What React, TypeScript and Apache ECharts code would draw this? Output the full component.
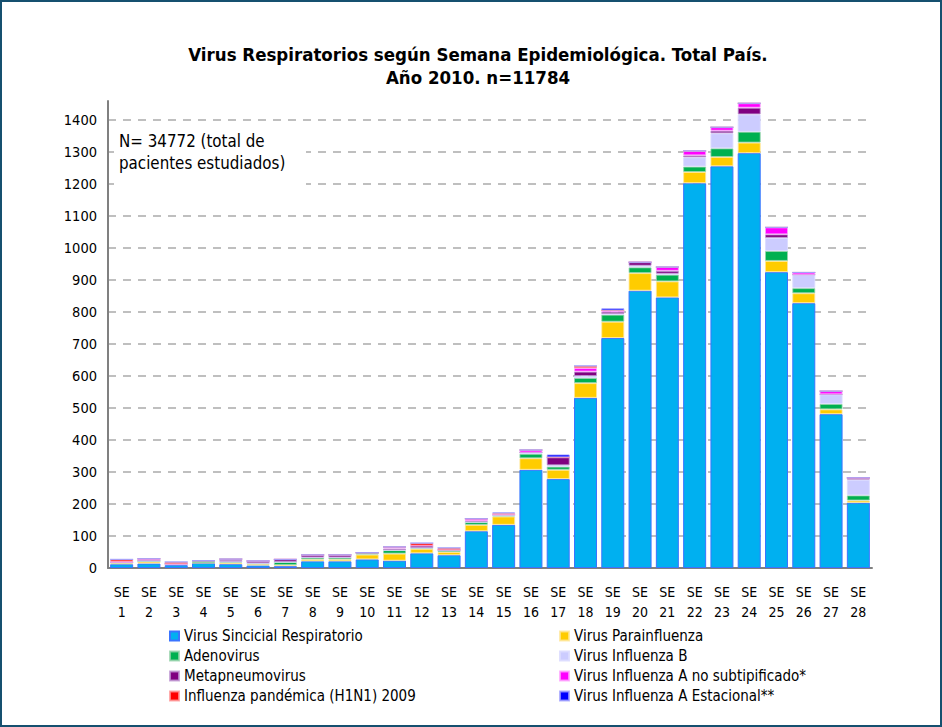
import React, { useEffect, useRef } from "react";
import * as echarts from "echarts";

const weeks = ["1","2","3","4","5","6","7","8","9","10","11","12","13","14","15","16","17","18","19","20","21","22","23","24","25","26","27","28"];
const categories = weeks.map((w) => "SE\n" + w);

const vsr = [12, 14, 9, 16, 12, 8, 6, 21, 21, 27, 23, 46, 40, 115, 135, 307, 278, 532, 719, 867, 846, 1203, 1256, 1297, 925, 828, 481, 204];
const parainfluenza = [3, 6, 4, 0, 5, 4, 3, 6, 6, 15, 22, 14, 10, 20, 26, 36, 29, 46, 51, 55, 50, 35, 29, 33, 35, 31, 15, 7];
const adenovirus = [3, 1, 0, 7, 3, 3, 10, 6, 6, 6, 11, 3, 7, 9, 4, 14, 10, 16, 22, 18, 21, 17, 27, 34, 31, 16, 17, 16];
const influenzaB = [0, 3, 0, 0, 0, 0, 0, 0, 0, 0, 0, 0, 0, 0, 0, 4, 4, 6, 2, 5, 3, 29, 47, 54, 41, 42, 30, 49];
const metapneumovirus = [0, 0, 0, 0, 5, 7, 8, 8, 8, 0, 5, 7, 0, 3, 3, 0, 25, 14, 7, 11, 9, 6, 8, 21, 11, 0, 0, 6];
const influenzaANoSub = [2, 5, 0, 0, 3, 0, 0, 0, 0, 0, 5, 0, 0, 7, 0, 8, 0, 11, 4, 0, 12, 14, 11, 14, 22, 7, 10, 0];
const h1n1 = [7, 0, 6, 0, 0, 0, 0, 0, 0, 0, 0, 8, 6, 0, 3, 0, 0, 7, 0, 0, 0, 0, 0, 0, 0, 0, 0, 0];
const estacional = [0, 0, 0, 0, 0, 0, 0, 0, 0, 0, 0, 0, 0, 0, 3, 0, 9, 0, 7, 0, 0, 0, 0, 0, 0, 0, 0, 0];

const seriesDefs = [
  { name: "Virus Sincicial Respiratorio", data: vsr, color: "#00B0F0", border: "#3a74ff" },
  { name: "Virus Parainfluenza", data: parainfluenza, color: "#FFCC00", border: "rgba(255,230,150,0.8)" },
  { name: "Adenovirus", data: adenovirus, color: "#00B050", border: "rgba(150,210,170,0.8)" },
  { name: "Virus Influenza B", data: influenzaB, color: "#CCCCFF", border: "rgba(220,220,255,0.9)" },
  { name: "Metapneumovirus", data: metapneumovirus, color: "#800080", border: "rgba(190,150,210,0.8)" },
  { name: "Virus Influenza A no subtipificado*", data: influenzaANoSub, color: "#FF00FF", border: "rgba(255,160,255,0.8)" },
  { name: "Influenza pandémica (H1N1) 2009", data: h1n1, color: "#FF0000", border: "rgba(255,150,150,0.8)" },
  { name: "Virus Influenza A Estacional**", data: estacional, color: "#0000FF", border: "rgba(160,160,255,0.8)" },
];

const legendLeft = ["Virus Sincicial Respiratorio", "Adenovirus", "Metapneumovirus", "Influenza pandémica (H1N1) 2009"];
const legendRight = ["Virus Parainfluenza", "Virus Influenza B", "Virus Influenza A no subtipificado*", "Virus Influenza A Estacional**"];

const FONT = "Tahoma, 'DejaVu Sans Condensed', 'DejaVu Sans', sans-serif";

export default function App() {
  const ref = useRef<HTMLDivElement>(null);
  useEffect(() => {
    if (!ref.current) return;
    const chart = echarts.init(ref.current, undefined, { renderer: "svg" });
    const legendCommon = {
      orient: "vertical" as const,
      top: 623,
      itemWidth: 9,
      itemHeight: 9,
      itemGap: 4,
      icon: "rect",
      selectedMode: false,
      textStyle: { fontFamily: FONT, fontSize: 15, color: "#000", lineHeight: 16 },
    };
    chart.setOption({
      animation: false,
      backgroundColor: "#fff",
      title: {
        text: "Virus Respiratorios según Semana Epidemiológica. Total País.\nAño 2010. n=11784",
        left: 473,
        top: 38,
        textAlign: "center",
        textStyle: { fontFamily: FONT, fontSize: 18.5, fontWeight: "bold", color: "#000", lineHeight: 23, align: "center" },
      },
      legend: [
        { ...legendCommon, left: 164, data: legendLeft },
        { ...legendCommon, left: 554, data: legendRight },
      ],
      grid: { left: 108, top: 101, width: 764, height: 467, containLabel: false },
      xAxis: {
        type: "category",
        data: categories,
        axisLine: { lineStyle: { color: "#808080", width: 2 } },
        axisTick: { show: false },
        axisLabel: { fontFamily: FONT, fontSize: 14, color: "#000", lineHeight: 20, margin: 14, interval: 0 },
      },
      yAxis: {
        type: "value",
        min: 0,
        max: 1460,
        interval: 100,
        axisLine: { show: true, lineStyle: { color: "#808080", width: 2 } },
        axisTick: { show: false },
        axisLabel: {
          fontFamily: FONT,
          fontSize: 14.5,
          color: "#000",
          margin: 11,
          showMaxLabel: false,
          formatter: (v: number) => (v % 100 === 0 ? String(v) : ""),
        },
        splitLine: { show: true, showMaxLine: false, lineStyle: { color: "#aaaaaa", width: 1.5, type: [8, 7] } },
      },
      series: seriesDefs.map((s) => ({
        name: s.name,
        type: "bar",
        stack: "total",
        barWidth: 23,
        data: s.data,
        itemStyle: { color: s.color, borderColor: s.border, borderWidth: 1 },
      })),
      graphic: [
        {
          type: "rect",
          shape: { x: 114, y: 125, width: 192, height: 62 },
          style: { fill: "#fff" },
          z: 5,
        },
        {
          type: "text",
          x: 119,
          y: 130,
          z: 6,
          style: {
            text: "N= 34772 (total de\npacientes estudiados)",
            fontFamily: FONT,
            fontSize: 16.8,
            lineHeight: 22,
            fill: "#000",
          },
        },
        {
          type: "rect",
          shape: { x: 1, y: 1, width: 940, height: 725 },
          style: { fill: "none", stroke: "#15506f", lineWidth: 2 },
          z: 10,
        },
      ],
    });
    return () => chart.dispose();
  }, []);
  return <div ref={ref} style={{ position: "fixed", left: 0, top: 0, width: 942, height: 727 }} />;
}
